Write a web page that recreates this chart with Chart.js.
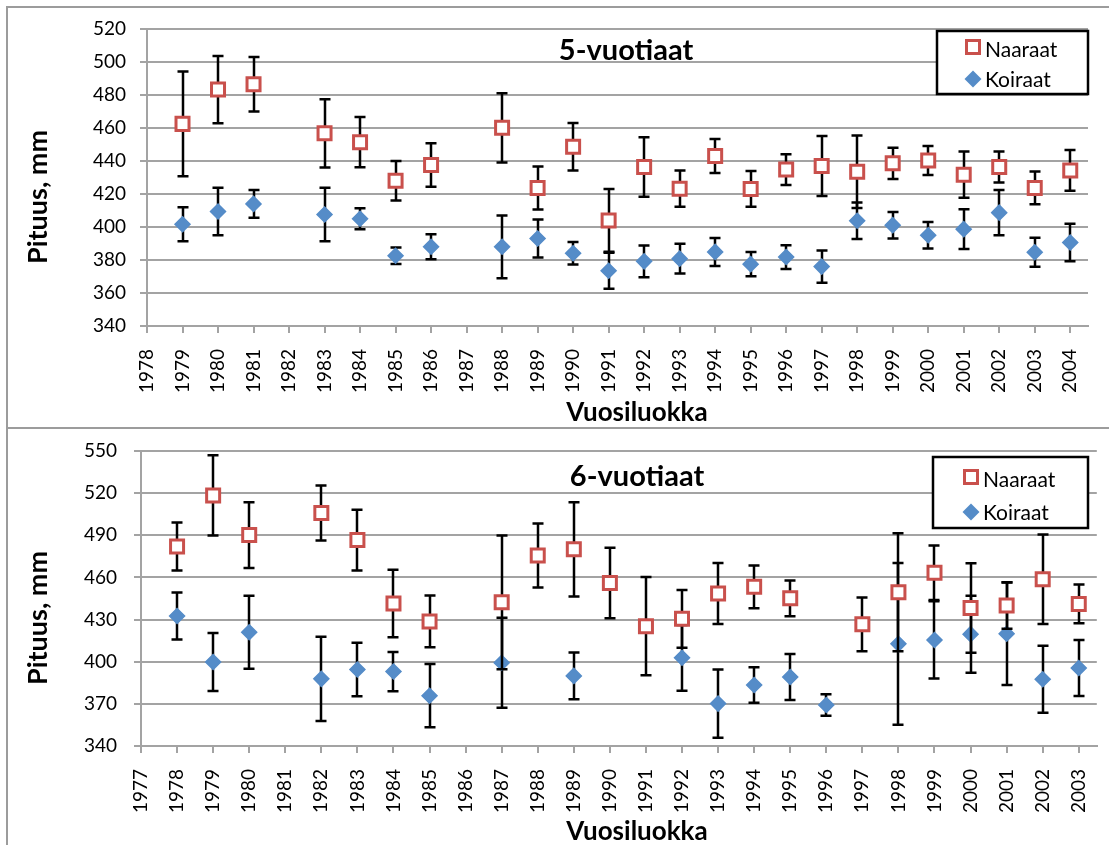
<!DOCTYPE html>
<html>
<head>
<meta charset="utf-8">
<script src="https://cdn.jsdelivr.net/npm/chart.js@4.4.1/dist/chart.umd.min.js"></script>
<style>
  body { margin: 0; background: #fff; }
  #page { position: relative; width: 1109px; height: 845px; overflow: hidden; }
  .rule { position: absolute; background: #9c9c9c; }
  canvas { position: absolute; left: 0; }
</style>
</head>
<body>
<div id="page">
  <div class="rule" style="left:6px;top:6px;width:1103px;height:2px"></div>
  <div class="rule" style="left:6px;top:6px;width:2px;height:839px"></div>
  <div class="rule" style="left:6px;top:427px;width:1103px;height:2px"></div>
  <canvas id="chart5" width="1109" height="427" style="top:0"></canvas>
  <canvas id="chart6" width="1109" height="416" style="top:429px"></canvas>
</div>
<script>
const FONT = "Lato, 'Open Sans', sans-serif";
const RED = "#c9504c";
const BLUE = "#558cc8";
const GRID = "#a3a3a3";

const yTitle = "Pituus, mm";
const xTitle = "Vuosiluokka";
const seriesNames = ["Naaraat", "Koiraat"];

// 5-vuotiaat
const years5 = [1979, 1980, 1981, 1982, 1983, 1984, 1985, 1986, 1987, 1988, 1989, 1990, 1991,
  1992, 1993, 1994, 1995, 1996, 1997, 1998, 1999, 2000, 2001, 2002, 2003, 2004];
const naaraat5 = [462.5, 483.3, 486.5, null, 456.8, 451.4, 428.0, 437.6, null, 460.1, 423.6, 448.6, 404.0,
  436.4, 423.2, 443.0, 423.1, 434.8, 437.0, 433.5, 438.6, 440.3, 431.7, 436.3, 423.7, 434.3];
const naaraat5Err = [31.7, 20.4, 16.5, null, 20.7, 15.2, 12.0, 13.2, null, 21.0, 13.0, 14.4, 19.0,
  18.0, 11.0, 10.3, 10.9, 9.3, 18.2, 22.0, 9.5, 8.8, 14.0, 9.4, 9.9, 12.3];
const koiraat5 = [401.7, 409.4, 414.0, null, 407.6, 405.0, 382.6, 388.0, null, 388.0, 393.0, 384.1, 373.5,
  379.2, 380.8, 384.9, 377.5, 381.8, 376.0, 403.8, 401.1, 395.0, 398.7, 408.7, 384.7, 390.6];
const koiraat5Err = [10.3, 14.4, 8.4, null, 16.2, 6.3, 5.0, 7.6, null, 19.0, 11.5, 6.8, 10.9,
  9.6, 9.0, 8.5, 7.3, 7.2, 9.8, 11.0, 8.0, 8.0, 12.0, 13.7, 8.8, 11.3];
const xTicks5 = [1978, 1979, 1980, 1981, 1982, 1983, 1984, 1985, 1986, 1987, 1988, 1989, 1990, 1991,
  1992, 1993, 1994, 1995, 1996, 1997, 1998, 1999, 2000, 2001, 2002, 2003, 2004];
const yTicks5 = [340, 360, 380, 400, 420, 440, 460, 480, 500, 520];

// 6-vuotiaat
const years6 = [1978, 1979, 1980, 1981, 1982, 1983, 1984, 1985, 1986, 1987, 1988, 1989, 1990,
  1991, 1992, 1993, 1994, 1995, 1996, 1997, 1998, 1999, 2000, 2001, 2002, 2003];
const naaraat6 = [482.0, 518.4, 490.2, null, 505.9, 486.6, 441.4, 428.7, null, 442.3, 475.6, 480.0, 456.0,
  425.3, 430.5, 448.5, 453.3, 445.1, null, 426.6, 449.5, 463.3, 438.2, 440.0, 458.7, 441.1];
const naaraat6Err = [17.1, 28.5, 23.4, null, 19.6, 21.6, 24.0, 18.4, null, 47.6, 22.8, 33.5, 25.1,
  35.0, 20.5, 21.7, 15.2, 12.7, null, 19.2, 42.0, 19.4, 31.9, 16.6, 31.9, 13.8];
const koiraat6 = [432.5, 399.8, 421.0, null, 387.8, 394.5, 393.0, 375.8, null, 399.3, null, 389.9, null,
  null, 402.8, 370.2, 383.4, 389.1, 369.2, null, 412.7, 415.5, 419.6, 419.9, 387.5, 395.5];
const koiraat6Err = [16.7, 20.7, 26.0, null, 30.0, 19.0, 14.0, 22.5, null, 32.0, null, 16.7, null,
  null, 23.4, 24.3, 12.6, 16.4, 7.6, null, 57.6, 27.5, 27.4, 36.5, 23.9, 19.9];
const xTicks6 = [1977, 1978, 1979, 1980, 1981, 1982, 1983, 1984, 1985, 1986, 1987, 1988, 1989, 1990,
  1991, 1992, 1993, 1994, 1995, 1996, 1997, 1998, 1999, 2000, 2001, 2002, 2003];
const yTicks6 = [340, 370, 400, 430, 460, 490, 520, 550];

Chart.defaults.font.family = FONT;

// black +/- bars, drawn just before each dataset's own markers
const errorBars = {
  id: "errorBars",
  beforeDatasetDraw(chart, args) {
    const ds = chart.data.datasets[args.index];
    const { x, y } = chart.scales;
    const ctx = chart.ctx;
    ctx.save();
    ctx.strokeStyle = "#000";
    ctx.lineWidth = 2.5;
    ds.data.forEach((p, i) => {
      const e = ds.errors[i];
      if (p.y == null || e == null) return;
      const px = Math.round(x.getPixelForValue(p.x));
      const top = y.getPixelForValue(p.y + e);
      const bot = y.getPixelForValue(p.y - e);
      ctx.beginPath();
      ctx.moveTo(px, top);
      ctx.lineTo(px, bot);
      ctx.moveTo(px - 5.5, top);
      ctx.lineTo(px + 5.5, top);
      ctx.moveTo(px - 5.5, bot);
      ctx.lineTo(px + 5.5, bot);
      ctx.stroke();
    });
    ctx.restore();
  },
};

// chart title, axis titles and the boxed legend inside the plot
const decor = {
  id: "decor",
  afterDraw(chart, args, opts) {
    const ctx = chart.ctx;
    ctx.save();
    ctx.fillStyle = "#000";
    ctx.textBaseline = "alphabetic";

    ctx.font = `bold 29px ${FONT}`;
    ctx.textAlign = "center";
    ctx.fillText(opts.title, opts.titleX, opts.titleY);

    ctx.font = `bold 26px ${FONT}`;
    ctx.fillText(xTitle, opts.xTitleX, opts.xTitleY);
    ctx.save();
    ctx.translate(opts.yTitleX, opts.yTitleY);
    ctx.rotate(-Math.PI / 2);
    ctx.font = `bold 27px ${FONT}`;
    ctx.fillText(yTitle, 0, 0);
    ctx.restore();

    const b = opts.legend;
    ctx.fillStyle = "#fff";
    ctx.fillRect(b.x, b.y, b.w, b.h);
    ctx.strokeStyle = "#000";
    ctx.lineWidth = 2.5;
    ctx.strokeRect(b.x, b.y, b.w, b.h);

    // Naaraat: hollow square
    ctx.strokeStyle = RED;
    ctx.lineWidth = 3;
    ctx.strokeRect(b.mx - 6.5, b.row1 - 6.5, 13, 13);
    // Koiraat: diamond
    ctx.fillStyle = BLUE;
    ctx.beginPath();
    ctx.moveTo(b.mx, b.row2 - 8.5);
    ctx.lineTo(b.mx + 8.5, b.row2);
    ctx.lineTo(b.mx, b.row2 + 8.5);
    ctx.lineTo(b.mx - 8.5, b.row2);
    ctx.closePath();
    ctx.fill();

    ctx.fillStyle = "#000";
    ctx.font = `21px ${FONT}`;
    ctx.textAlign = "left";
    ctx.fillText(seriesNames[0], b.tx, b.row1 + 9.5);
    ctx.fillText(seriesNames[1], b.tx, b.row2 + 8);
    ctx.restore();
  },
};

function points(years, values) {
  return years.map((yr, i) => ({ x: yr, y: values[i] }));
}

function makeConfig(s) {
  return {
    type: "scatter",
    data: {
      datasets: [
        {
          label: seriesNames[0],
          data: points(s.years, s.naaraat),
          errors: s.naaraatErr,
          pointStyle: "rect",
          pointRadius: 9.2,
          pointHoverRadius: 9.2,
          pointBorderWidth: 3,
          pointBorderColor: RED,
          pointBackgroundColor: "#fff",
        },
        {
          label: seriesNames[1],
          data: points(s.years, s.koiraat),
          errors: s.koiraatErr,
          pointStyle: "rectRot",
          pointRadius: 7.5,
          pointHoverRadius: 7.5,
          pointBorderWidth: 1.5,
          pointBorderColor: BLUE,
          pointBackgroundColor: BLUE,
        },
      ],
    },
    options: {
      responsive: false,
      animation: false,
      events: [],
      layout: { padding: s.padding },
      plugins: {
        legend: { display: false },
        tooltip: { enabled: false },
        decor: s.decor,
      },
      scales: {
        x: {
          type: "linear",
          min: s.xTicks[0],
          max: s.xTicks[s.xTicks.length - 1] + 0.5,
          afterBuildTicks: (sc) => { sc.ticks = s.xTicks.map((v) => ({ value: v })); },
          afterFit: (sc) => {
            sc.height = s.xHeight;
            sc.paddingLeft = 0;
            sc.paddingRight = 0;
          },
          grid: { drawOnChartArea: false, color: GRID, lineWidth: 2, tickLength: 7 },
          border: { color: GRID, width: 2 },
          ticks: {
            font: { size: 19 },
            color: "#000",
            padding: 16,
            minRotation: 90,
            maxRotation: 90,
            autoSkip: false,
            callback: (v) => String(v),
          },
        },
        y: {
          min: s.yTicks[0],
          max: s.yTicks[s.yTicks.length - 1],
          afterBuildTicks: (sc) => { sc.ticks = s.yTicks.map((v) => ({ value: v })); },
          afterFit: (sc) => {
            sc.width = s.yWidth;
            sc.paddingTop = 0;
            sc.paddingBottom = 0;
          },
          grid: { color: GRID, lineWidth: 2, tickLength: 7 },
          border: { color: GRID, width: 2 },
          ticks: { font: { size: 19 }, color: "#000", padding: s.yPad },
        },
      },
    },
    plugins: [errorBars, decor],
  };
}

new Chart(document.getElementById("chart5"), makeConfig({
  years: years5,
  naaraat: naaraat5,
  naaraatErr: naaraat5Err,
  koiraat: koiraat5,
  koiraatErr: koiraat5Err,
  xTicks: xTicks5,
  yTicks: yTicks5,
  padding: { top: 29, right: 21, left: 0, bottom: 0 },
  xHeight: 101,
  yWidth: 147,
  yPad: 14,
  decor: {
    title: "5-vuotiaat",
    titleX: 626, titleY: 60,
    xTitleX: 637, xTitleY: 421,
    yTitleX: 47, yTitleY: 197,
    legend: { x: 937, y: 31, w: 151, h: 63, mx: 973, tx: 985, row1: 47, row2: 79 },
  },
}));

new Chart(document.getElementById("chart6"), makeConfig({
  years: years6,
  naaraat: naaraat6,
  naaraatErr: naaraat6Err,
  koiraat: koiraat6,
  koiraatErr: koiraat6Err,
  xTicks: xTicks6,
  yTicks: yTicks6,
  padding: { top: 22, right: 10, left: 0, bottom: 0 },
  xHeight: 99,
  yWidth: 141,
  yPad: 17,
  decor: {
    title: "6-vuotiaat",
    titleX: 637, titleY: 57,
    xTitleX: 637, xTitleY: 411,
    yTitleX: 47, yTitleY: 189,
    legend: { x: 933, y: 28, w: 155, h: 71, mx: 971, tx: 983, row1: 48, row2: 83 },
  },
}));
</script>
</body>
</html>
